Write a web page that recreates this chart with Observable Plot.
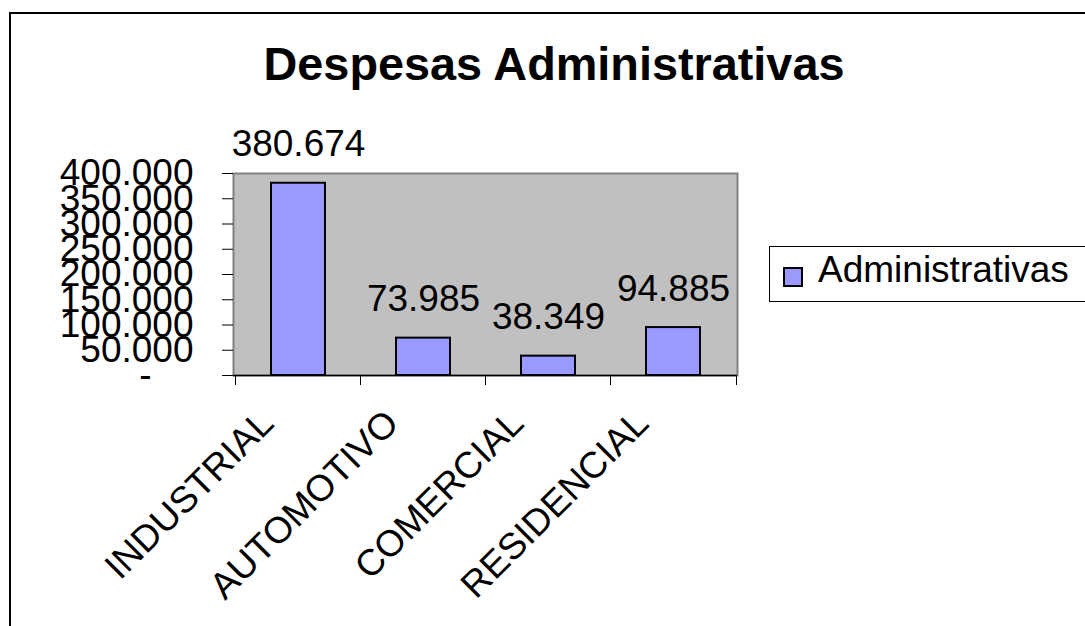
<!DOCTYPE html>
<html>
<head>
<meta charset="utf-8">
<script src="https://cdn.jsdelivr.net/npm/d3@7"></script>
<script src="https://cdn.jsdelivr.net/npm/@observablehq/plot@0.6"></script>
<style>
  html, body { margin: 0; padding: 0; background: #fff; }
  #wrap { position: relative; width: 1085px; height: 626px; overflow: hidden; font-family: "Liberation Sans", Arial, sans-serif; }
  #border { position: absolute; left: 9px; top: 12px; width: 1200px; height: 800px; border: 2px solid #000; box-sizing: border-box; }
  #title { position: absolute; left: 0; width: 1108px; top: 41px; text-align: center; font-weight: bold; font-size: 46.8px; line-height: 46px; color: #000; white-space: nowrap; }
  #chart { position: absolute; left: 0; top: 0; }
  #legend { position: absolute; left: 769px; top: 246px; width: 330px; height: 56px; border: 1px solid #000; box-sizing: border-box; background: #fff; }
  #legend .sw { position: absolute; left: 13px; top: 20px; width: 20px; height: 20px; background: #9999FF; border: 2px solid #000; box-sizing: border-box; }
  #legend .lab { position: absolute; left: 48px; top: 5px; font-size: 37px; line-height: 36px; color: #000; white-space: nowrap; }
</style>
</head>
<body>
<div id="wrap">
  <div id="border"></div>
  <div id="title"></div>
  <div id="chart"></div>
  <div id="legend"><div class="sw"></div><div class="lab"></div></div>
</div>
<script>
const titleText = "Despesas Administrativas";
const seriesName = "Administrativas";
const categories = ["INDUSTRIAL", "AUTOMOTIVO", "COMERCIAL", "RESIDENCIAL"];
const values = [380674, 73985, 38349, 94885];
const yTicks = [50000, 100000, 150000, 200000, 250000, 300000, 350000, 400000];
const zeroTick = [0];

const data = categories.map((c, i) => ({cat: c, value: values[i]}));
const fmt = d3.formatLocale({decimal: ",", thousands: ".", grouping: [3], currency: ["", ""]}).format(",d");

document.getElementById("title").textContent = titleText;
document.querySelector("#legend .lab").textContent = seriesName;

const W = 1085, H = 626, ml = 233, mr = 348, mt = 173, mb = 251;
const step = (W - ml - mr) / categories.length;
const frameH = H - mt - mb;

const chart = Plot.plot({
  width: W, height: H,
  marginLeft: ml, marginRight: mr, marginTop: mt, marginBottom: mb,
  style: {fontFamily: "Liberation Sans, Arial, sans-serif", fontSize: "37px", background: "transparent", color: "#000", overflow: "visible"},
  x: {domain: categories, paddingInner: 0.571, paddingOuter: 0.2857, axis: null},
  y: {domain: [0, 400000], axis: null},
  marks: [
    Plot.frame({fill: "#C0C0C0", stroke: "#808080", strokeWidth: 2}),
    Plot.barY(data, {x: "cat", y: "value", fill: "#9999FF", stroke: "#000", strokeWidth: 2}),
    Plot.ruleY([0], {stroke: "#000", strokeWidth: 1.5}),
    Plot.axisY(yTicks, {anchor: "left", label: null, tickSize: 11, tickPadding: 29, tickFormat: fmt, fontSize: 37}),
    Plot.axisY(zeroTick, {anchor: "left", label: null, tickSize: 11, tickPadding: 71, tickFormat: () => "-", fontSize: 37}),
    Plot.ruleX(data, {x: "cat", dx: -step / 2, insetTop: frameH - 10, dy: 10, stroke: "#000", strokeWidth: 1}),
    Plot.ruleX(data.slice(-1), {x: "cat", dx: step / 2, insetTop: frameH - 10, dy: 10, stroke: "#000", strokeWidth: 1}),
    Plot.text(data, {x: "cat", y: "value", text: d => fmt(d.value), dy: -27, lineAnchor: "bottom", fontSize: 37, fill: "#000"}),
    Plot.text(data, {x: "cat", frameAnchor: "bottom", text: "cat", rotate: -45, textAnchor: "end", lineAnchor: "bottom", dx: -23, dy: 50, fontSize: 37, fill: "#000"})
  ]
});
document.getElementById("chart").appendChild(chart);
</script>
</body>
</html>
